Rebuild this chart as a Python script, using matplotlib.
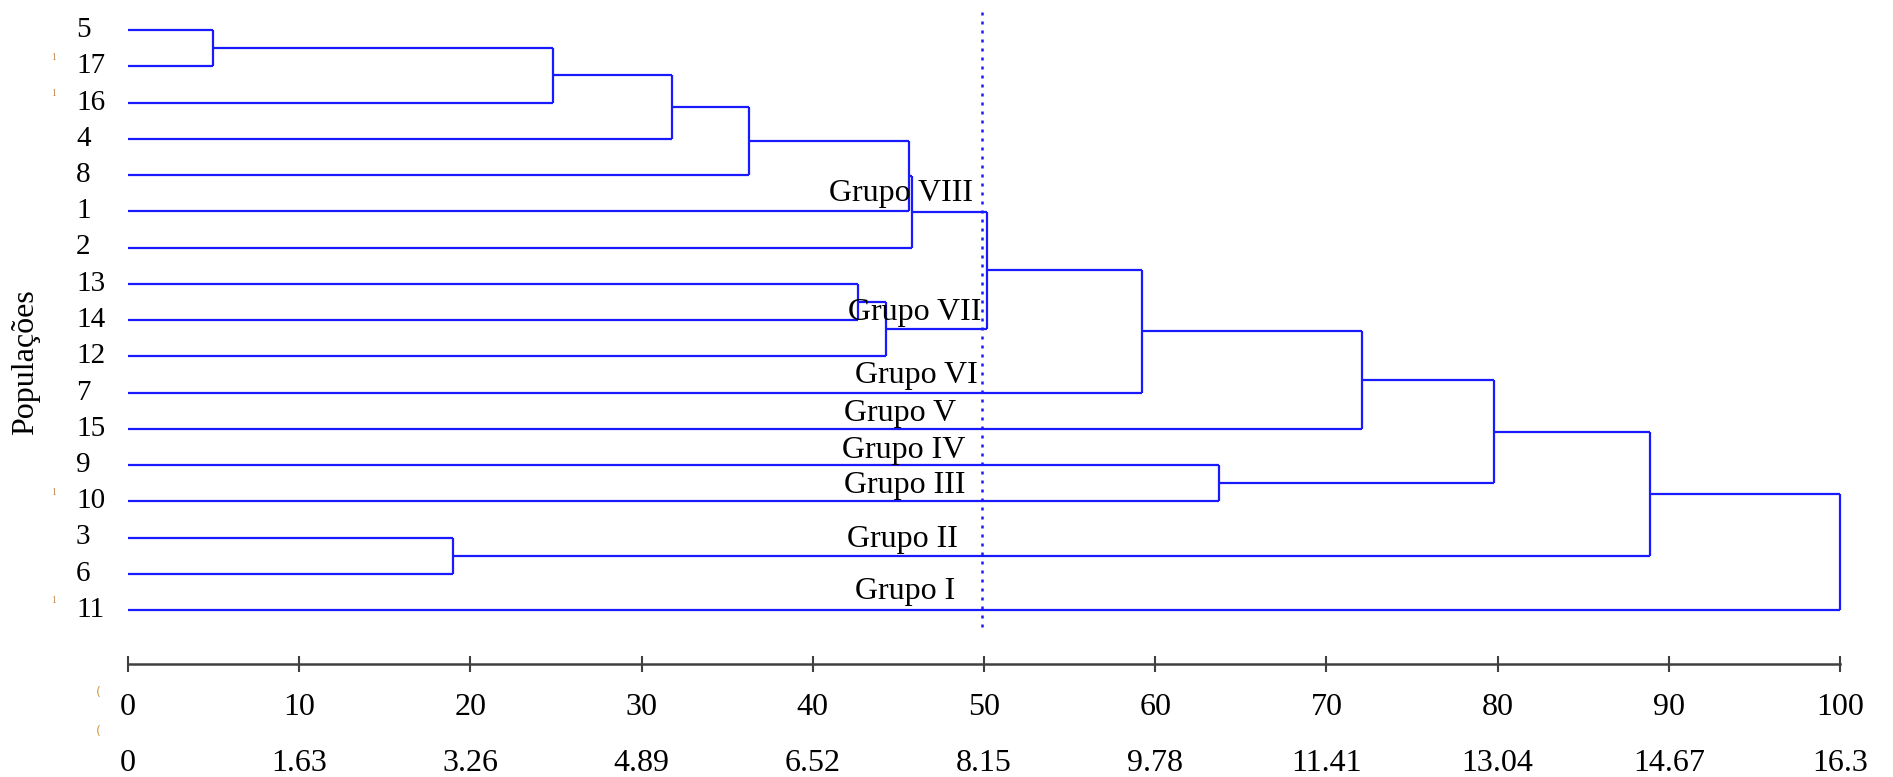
import matplotlib
matplotlib.use('Agg')
import matplotlib.pyplot as plt

# ---------------- data ----------------
leaf_labels = ['5', '17', '16', '4', '8', '1', '2', '13', '14', '12',
               '7', '15', '9', '10', '3', '6', '11']
# merges (scipy-like): child a, child b, height (% of max distance)
merge_a = [0, 17, 18, 19, 20, 21, 7, 23, 22, 25, 26, 12, 27, 14, 29, 31]
merge_b = [1, 2, 3, 4, 5, 6, 8, 9, 24, 10, 11, 13, 28, 15, 30, 16]
merge_h = [4.95, 24.8, 31.8, 36.3, 45.6, 45.8, 42.65, 44.3, 50.15, 59.2,
           72.1, 63.75, 79.8, 19.0, 88.9, 100.0]
cut_value = 49.9
tick_values = [0, 10, 20, 30, 40, 50, 60, 70, 80, 90, 100]
tick_labels_pct = ['0', '10', '20', '30', '40', '50', '60', '70', '80', '90', '100']
tick_labels_dist = ['0', '1.63', '3.26', '4.89', '6.52', '8.15', '9.78',
                    '11.41', '13.04', '14.67', '16.3']
group_names = ['Grupo VIII', 'Grupo VII', 'Grupo VI', 'Grupo V',
               'Grupo IV', 'Grupo III', 'Grupo II', 'Grupo I']
ylabel = 'Populações'

# ---------------- layout ----------------
W, H = 1893, 777
X0PX, PXU = 128.0, 17.12          # pixel of value 0, pixels per unit
Y0PX, PXL = 30.0, 36.25           # pixel of first leaf, pixels per leaf
FONT = 'Liberation Serif'
BLUE = '#1a1aff'

def xd(px):
    return (px - X0PX) / PXU

def yd(py):
    return (py - Y0PX) / PXL

fig = plt.figure(figsize=(W / 100, H / 100), dpi=100)
fig.patch.set_facecolor('white')

ax = fig.add_axes([0, 0, 1, 1])
ax.set_xlim(xd(0), xd(W))
ax.set_ylim(yd(H), yd(0))
ax.patch.set_alpha(0)

# ---------------- dendrogram ----------------
n = len(leaf_labels)
pos = {i: (0.0, float(i)) for i in range(n)}
for k, (a, b, h) in enumerate(zip(merge_a, merge_b, merge_h)):
    xa, ya = pos[a]
    xb, yb = pos[b]
    ax.plot([xa, h], [ya, ya], color=BLUE, lw=1.6, solid_capstyle='butt')
    ax.plot([xb, h], [yb, yb], color=BLUE, lw=1.6, solid_capstyle='butt')
    ax.plot([h, h], [ya, yb], color=BLUE, lw=1.6, solid_capstyle='butt')
    pos[n + k] = (h, (ya + yb) / 2)

# cut line
ax.plot([cut_value, cut_value], [yd(12), yd(633)], color=BLUE, lw=1.8,
        linestyle=(0, (1.2, 2.4)))

# leaf labels
for i, lab in enumerate(leaf_labels):
    ax.text(xd(76), i, lab, ha='left', va='center', fontsize=21,
            family=FONT, color='black')

# small stray marks of the original
for i in [1, 2, 13, 16]:
    ax.text(xd(54), i - 0.25, '1', ha='center', va='center', fontsize=7,
            family=FONT, color='#c8864b')

# group labels (center x pixel, cap-center y pixel)
group_px = [(901, 190), (915, 309), (916, 372), (900, 410),
            (904, 447), (905, 482), (902, 536), (905, 588)]
for name, (gx, gy) in zip(group_names, group_px):
    ax.text(xd(gx), yd(gy + 11), name, ha='center', va='baseline',
            fontsize=23, family=FONT, color='black')

# ---------------- bottom axis ----------------
for s in ['top', 'left', 'right']:
    ax.spines[s].set_visible(False)
ax.spines['bottom'].set_position(('data', yd(664)))
ax.spines['bottom'].set_bounds(0, 100)
ax.spines['bottom'].set_color('#404040')
ax.spines['bottom'].set_linewidth(1.8)
ax.set_yticks([])
ax.set_xticks(tick_values)
ax.set_xticklabels(tick_labels_pct, family=FONT, fontsize=23)
ax.tick_params(axis='x', direction='inout', length=11, width=1.5,
               color='#404040', pad=15.5)

for v, lab in zip(tick_values, tick_labels_dist):
    ax.text(v, yd(771), lab, ha='center', va='baseline', fontsize=23,
            family=FONT, color='black')

ax.text(xd(98), yd(693), '(', ha='center', va='center', fontsize=9,
        color='#d09a40')
ax.text(xd(98), yd(731), '(', ha='center', va='center', fontsize=9,
        color='#d09a40')

fig.text(26 / W, 1 - 362 / H, ylabel, rotation=90, ha='center', va='center',
         fontsize=23, family=FONT)

fig.savefig('out.png', dpi=100, facecolor='white')
